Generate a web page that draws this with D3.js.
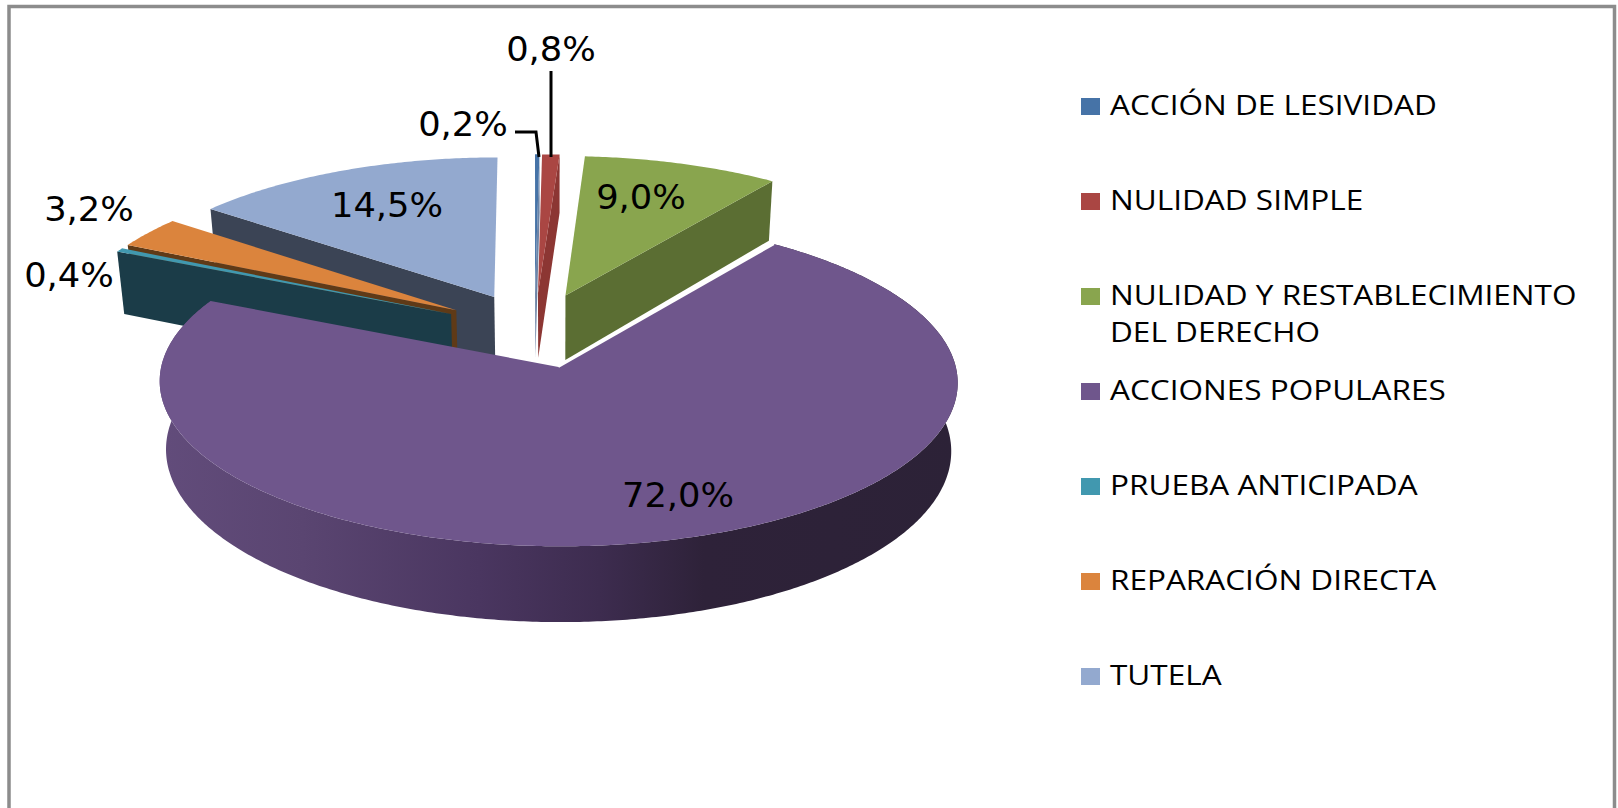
<!DOCTYPE html>
<html><head><meta charset="utf-8">
<script src="https://cdnjs.cloudflare.com/ajax/libs/d3/7.8.5/d3.min.js"></script>
<style>html,body{margin:0;padding:0;background:#fff;overflow:hidden}svg{display:block}</style>
</head><body><svg id="c" width="1618" height="808"></svg>
<script>
const categories = ["ACCIÓN DE LESIVIDAD","NULIDAD SIMPLE","NULIDAD Y RESTABLECIMIENTO|DEL DERECHO","ACCIONES POPULARES","PRUEBA ANTICIPADA","REPARACIÓN DIRECTA","TUTELA"];
const values = [0.2,0.8,9.0,72.0,0.4,3.2,14.5];
const valueLabels = ["0,2%","0,8%","9,0%","72,0%","0,4%","3,2%","14,5%"];
const topColors = ["#4673a7","#aa4643","#89a54e","#6f568c","#4198af","#db843d","#93a9cf"];
const wallColors = ["#6d84a6","#8c3633","#5b6e33","#3e2c4f","#1b3c48","#5f3a17","#3b4455"];
const labelCenters = [[463,136],[551,61],[641,209],[678,507],[69,287],[89,221],[387,217]];

// pie: ground-plane slices, exploded, then seen through a simple perspective
const explode=.24,R=389,A=156,B=.105,BX=.09,CX=534.5,CY=325.5,DEPTH=66,VX=555,K=.984,BULGE=4.5,BULGE_W=1.23;
function proj(X,Z,down){
  const s=1/(1+B*Z),sx=1/(1+BX*Z);
  let x=CX+R*X*sx,y=CY-A*Z*s+BULGE*Math.max(0,1-(Z/BULGE_W)**2);
  if(down){y+=DEPTH*s;x=VX+(x-VX)*K;}
  return [x,y];
}
const svg=d3.select("#c");
const pie=d3.pie().sort(null).value(d=>d)(values);
const line=d3.line();
const defs=svg.append("defs");
const rimScale=d3.scaleLinear().domain([0,1]).range([158,961]);
const grad=defs.append("linearGradient").attr("id","rim").attr("gradientUnits","userSpaceOnUse")
  .attr("x1",rimScale(0)).attr("x2",rimScale(1)).attr("y1",0).attr("y2",0);
[[0,"#624c7b"],[.18,"#5a4571"],[.4,"#4a3660"],[.55,"#3d2c4f"],[.68,"#2e2239"],[1,"#2c2237"]]
  .forEach(([o,c])=>grad.append("stop").attr("offset",o).attr("stop-color",c));

// border: top and both sides
svg.append("path").attr("d",line([[9,808],[9,6.5],[1614.5,6.5],[1614.5,808]]))
  .attr("fill","none").attr("stroke","#8c8c8c").attr("stroke-width",3.5);

function geom(d){
  const mid=(d.startAngle+d.endAngle)/2;
  const ox=explode*Math.sin(mid),oz=explode*Math.cos(mid);
  const n=Math.max(2,Math.ceil((d.endAngle-d.startAngle)/.01));
  const ang=d3.range(n+1).map(i=>d.startAngle+(d.endAngle-d.startAngle)*i/n);
  const rim=ang.map(t=>[ox+Math.sin(t),oz+Math.cos(t)]);
  return {c:[ox,oz],rim};
}
function drawSlice(d,i){
  const g=geom(d),gp=svg.append("g");
  const P=p=>proj(p[0],p[1],false),Q=p=>proj(p[0],p[1],true);
  const first=g.rim[0],last=g.rim[g.rim.length-1];
  const wall=wallColors[i];
  if(d.startAngle>Math.PI) gp.append("path").attr("d",line([P(g.c),P(first),Q(first),Q(g.c)])+"Z").attr("fill",wall);
  if(d.endAngle<Math.PI) gp.append("path").attr("d",line([P(g.c),P(last),Q(last),Q(g.c)])+"Z").attr("fill",wall);
  if(i===3) gp.append("path").attr("d",line([...g.rim.map(P),...g.rim.map(Q).reverse()])+"Z").attr("fill","url(#rim)");
  gp.append("path").attr("d",line([P(g.c),...g.rim.map(P)])+"Z").attr("fill",topColors[i]);
  if(i===3){
    gp.append("path").attr("d",line([P(g.c),P(first)])).attr("stroke","#fff").attr("stroke-width",2).attr("fill","none");
  }
}
// painter's order: back slices first, the big front slice last
[6,5,4,0,1,2,3].forEach(i=>drawSlice(pie[i],i));

// leader lines
const lead=svg.append("g").attr("fill","none").attr("stroke","#000").attr("stroke-width",3);
lead.append("path").attr("d",line([[515,132],[536,132],[539,157]]));
lead.append("path").attr("d",line([[551,71],[551,157]]));

// data labels (slightly wide, as in the picture)
svg.append("g").selectAll("text").data(valueLabels).join("text")
  .attr("transform",(d,i)=>`translate(${labelCenters[i][0]},${labelCenters[i][1]}) scale(1.07,1)`)
  .attr("text-anchor","middle").attr("font-family","'DejaVu Sans'").attr("font-size",33).attr("fill","#000")
  .text(d=>d);

// legend
const rowY=d3.scalePoint().domain(categories).range([98,668]);
const leg=svg.append("g").selectAll("g").data(categories).join("g").attr("transform",d=>`translate(1081,${rowY(d)})`);
leg.append("rect").attr("width",19).attr("height",17).attr("fill",(d,i)=>topColors[i]);
leg.append("text").attr("transform","translate(29,17) scale(1.168,1)").attr("font-family","'Open Sans'").attr("font-size",27).attr("fill","#000")
  .selectAll("tspan").data(d=>d.split("|")).join("tspan").attr("x",0).attr("dy",(d,i)=>i?37:0).text(d=>d);
</script></body></html>
